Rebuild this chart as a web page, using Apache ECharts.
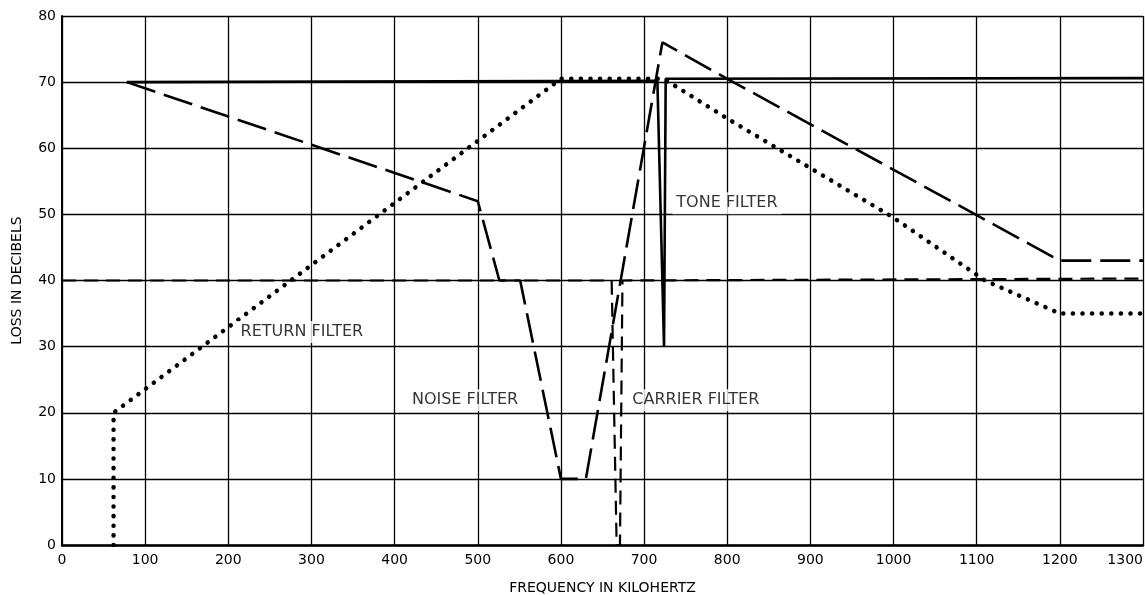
<!DOCTYPE html>
<html>
<head>
<meta charset="utf-8">
<script src="https://cdn.jsdelivr.net/npm/echarts@6/dist/echarts.min.js"></script>
<style>html,body{margin:0;padding:0;background:#fff}#c{width:1145px;height:595px}</style>
</head>
<body>
<div id="c"></div>
<script>
// Frequency (kHz) / loss (dB) pairs
const toneFilter = [[78,70],[716,70.2],[724,30],[726,30],[726,70.5],[1300,70.6]];
const noiseFilter = [[78,70],[500,52],[526,40],[551,40],[600,10],[630,10],[722,76],[800,70.5],[1200,43],[1300,43]];
const returnFilter = [[62,0],[62,20],[600,70.5],[718,70.5],[730,70],[800,64.5],[900,57],[1000,49.5],[1110,40],[1200,35],[1300,35]];
const carrierFilter = [[0,40],[661,40],[667,0],[671,0],[674,40],[1300,40.3]];
const labelNames = ['TONE FILTER','RETURN FILTER','NOISE FILTER','CARRIER FILTER'];
const labelAnchors = [[734,51.7],[210,32.2],[416,21.9],[681,21.9]];
const xTicks = [0,100,200,300,400,500,600,700,800,900,1000,1100,1200,1300];
const yTicks = [0,10,20,30,40,50,60,70,80];

const FONT = 'DejaVu Sans';
const chart = echarts.init(document.getElementById('c'), null, {renderer:'canvas'});
chart.setOption({
  animation:false,
  backgroundColor:'#fff',
  grid:{left:62,right:2,top:16,bottom:50,containLabel:false,outerBoundsMode:'none'},
  xAxis:{
    type:'value',min:xTicks[0],max:xTicks[xTicks.length-1],interval:100,
    name:'FREQUENCY IN KILOHERTZ',nameLocation:'middle',nameGap:36,
    nameTextStyle:{color:'#000',fontFamily:FONT,fontSize:14},
    axisLine:{lineStyle:{color:'#000',width:2.5}},
    axisTick:{show:false},
    axisLabel:{color:'#000',fontFamily:FONT,fontSize:14,margin:8,alignMaxLabel:'right',
      formatter:v=>String(v)},
    splitLine:{show:true,lineStyle:{color:'#000',width:1.3}}
  },
  yAxis:{
    type:'value',min:yTicks[0],max:yTicks[yTicks.length-1],interval:10,
    name:'LOSS IN DECIBELS',nameLocation:'middle',nameGap:38,
    nameTextStyle:{color:'#000',fontFamily:FONT,fontSize:14},
    axisLine:{show:true,lineStyle:{color:'#000',width:2}},
    axisTick:{show:false},
    axisLabel:{color:'#000',fontFamily:FONT,fontSize:14,margin:6,formatter:v=>String(v)},
    splitLine:{show:true,lineStyle:{color:'#000',width:1.3}}
  },
  series:[
    {name:'Tone filter',type:'line',data:toneFilter,showSymbol:false,
     lineStyle:{color:'#000',width:2.6,type:'solid'}},
    {name:'Noise filter',type:'line',data:noiseFilter,showSymbol:false,
     lineStyle:{color:'#000',width:2.6,type:[30,9]}},
    {name:'Return filter',type:'line',data:returnFilter,showSymbol:false,
     lineStyle:{color:'#000',width:4.5,type:[0.1,9.5],cap:'round'}},
    {name:'Carrier filter',type:'line',data:carrierFilter,showSymbol:false,
     lineStyle:{color:'#000',width:2.2,type:[14,8]}},
    {name:'labels',type:'scatter',symbolSize:0,silent:true,z:10,
     data:labelAnchors.map((p,i)=>({value:p,name:labelNames[i]})),
     label:{show:true,position:'right',distance:0,formatter:'{b}',color:'#000',
       fontFamily:FONT,fontSize:16,backgroundColor:'#fff',padding:[3,4,3,4]}}
  ]
});
</script>
</body>
</html>
